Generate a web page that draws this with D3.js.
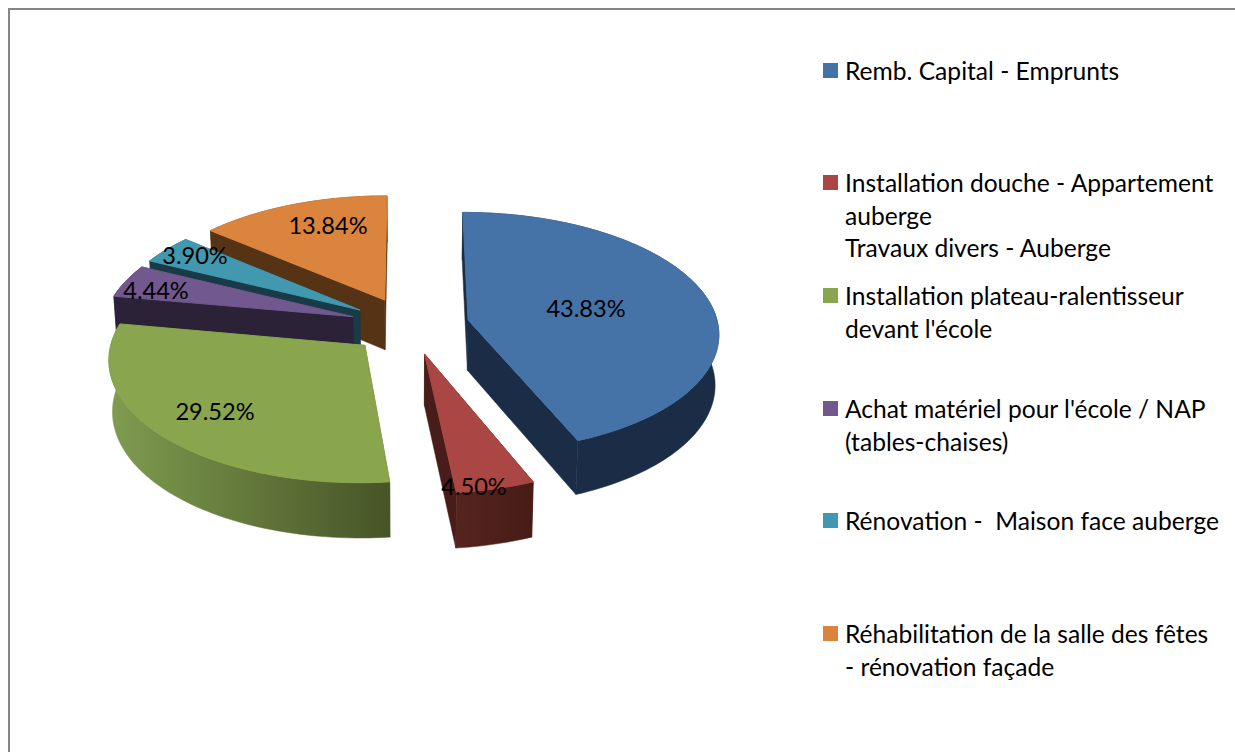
<!DOCTYPE html>
<html>
<head>
<meta charset="utf-8">
<script src="https://d3js.org/d3.v7.min.js"></script>
<style>
  html, body { margin: 0; padding: 0; background: #fff; overflow: hidden; }
  svg { display: block; }
  text { font-family: Lato, "Open Sans", sans-serif; fill: #000; }
</style>
</head>
<body>
<svg id="chart" width="1235" height="752"></svg>
<script>
// data
const categories = [
  "Remb. Capital - Emprunts",
  "Installation douche - Appartement\nauberge\nTravaux divers - Auberge",
  "Installation plateau-ralentisseur\ndevant l'école",
  "Achat matériel pour l'école / NAP\n(tables-chaises)",
  "Rénovation -  Maison face auberge",
  "Réhabilitation de la salle des fêtes\n- rénovation façade",
];
const values = [43.83, 4.5, 29.52, 4.44, 3.9, 13.84];
const labels = ["43.83%", "4.50%", "29.52%", "4.44%", "3.90%", "13.84%"];

// colours
const topColors = ["#4572a7", "#aa4643", "#89a54e", "#71588f", "#4198af", "#db843d"];
const wallLeft = ["#1b2d46", "#55241f", "#7f9c4f", "#2b2238", "#183b47", "#573316"];
const wallRight = ["#1b2d46", "#481b17", "#475427", "#2b2238", "#183b47", "#573316"];
const sideColors = ["#1b2d46", "#481c18", "#475427", "#2b2238", "#183b47", "#573316"];
// back to front
const drawOrder = [5, 4, 3, 2, 1, 0];

// layout
const cx = 409.5, cy = 325.5;
const explode = 0.24;
const perspective = 0.1;
const depth = 50.5;
const bottomShrink = 0.988;
const labelAnchors = [[586, 309], [474, 487], [215, 412], [156, 291], [195, 256], [328, 226]];
const legendRows = [80, 192, 305, 418, 530, 643];
const legendLine = 32.7;

const svg = d3.select("#chart");
const defs = svg.append("defs");

// frame, runs off the right and bottom of the page
svg.append("rect")
  .attr("x", 9).attr("y", 9)
  .attr("width", 1300).attr("height", 800)
  .attr("fill", "#fff")
  .attr("stroke", "#868686")
  .attr("stroke-width", 2);

const xScale = d3.scaleLinear().domain([-1, 1]).range([-250, 250]);
const yScale = d3.scaleLinear().domain([-1, 1]).range([119.4, -119.4]);

// world point on the pie plane -> pixel, z = 0 top face, z = 1 bottom face
function project(X, Y, z) {
  const s = 1 / (1 + perspective * Y);
  const k = z ? bottomShrink : 1;
  return [
    cx + xScale(X) * s * k,
    cy + yScale(Y) * s * k + (z ? depth * s : 0),
  ];
}

const arcs = d3.pie().sort(null)(values);
const line = d3.line();
const pie3d = svg.append("g");

drawOrder.forEach((i) => {
  const d = arcs[i];
  const mid = (d.startAngle + d.endAngle) / 2;
  const ox = explode * Math.sin(mid);
  const oy = explode * Math.cos(mid);
  const n = Math.max(8, Math.round((d.endAngle - d.startAngle) * 40));
  const rim = d3.range(n + 1).map((j) => {
    const a = d.startAngle + ((d.endAngle - d.startAngle) * j) / n;
    return [ox + Math.sin(a), oy + Math.cos(a)];
  });
  const top = rim.map((p) => project(p[0], p[1], 0));
  const bottom = rim.map((p) => project(p[0], p[1], 1));
  const apexTop = project(ox, oy, 0);
  const apexBottom = project(ox, oy, 1);

  const g = pie3d.append("g");

  // radial walls
  [[top[0], bottom[0]], [top[n], bottom[n]]].forEach(([t, b]) => {
    g.append("path")
      .attr("d", line([apexTop, t, b, apexBottom]) + "Z")
      .attr("fill", sideColors[i])
      .attr("stroke", sideColors[i])
      .attr("stroke-width", 0.5);
  });

  // outer wall, shaded left to right
  const xs = d3.extent(top.concat(bottom), (p) => p[0]);
  const gradId = "wall" + i;
  const grad = defs.append("linearGradient")
    .attr("id", gradId)
    .attr("gradientUnits", "userSpaceOnUse")
    .attr("x1", xs[0]).attr("x2", xs[1])
    .attr("y1", 0).attr("y2", 0);
  grad.append("stop").attr("offset", 0).attr("stop-color", wallLeft[i]);
  grad.append("stop").attr("offset", 1).attr("stop-color", wallRight[i]);
  g.append("path")
    .attr("d", line(top.concat(bottom.slice().reverse())) + "Z")
    .attr("fill", `url(#${gradId})`)
    .attr("stroke", `url(#${gradId})`)
    .attr("stroke-width", 0.5);

  // top face, stroked so no wall colour peeks round the rim
  g.append("path")
    .attr("d", line([apexTop].concat(top)) + "Z")
    .attr("fill", topColors[i])
    .attr("stroke", topColors[i])
    .attr("stroke-width", 1);
});

// data labels
svg.append("g")
  .selectAll("text")
  .data(labels)
  .join("text")
  .attr("x", (d, i) => labelAnchors[i][0])
  .attr("y", (d, i) => labelAnchors[i][1])
  .attr("dy", "0.35em")
  .attr("text-anchor", "middle")
  .attr("font-size", 23.6)
  .text((d) => d);

// legend
const legend = svg.append("g")
  .selectAll("g")
  .data(categories)
  .join("g");
legend.append("rect")
  .attr("x", 823)
  .attr("y", (d, i) => legendRows[i] - 17)
  .attr("width", 15)
  .attr("height", 15)
  .attr("fill", (d, i) => topColors[i]);
legend.each(function (d, i) {
  d3.select(this)
    .selectAll("text")
    .data(d.split("\n"))
    .join("text")
    .attr("x", 845)
    .attr("y", (t, j) => legendRows[i] + j * legendLine)
    .attr("font-size", 24.6)
    .attr("xml:space", "preserve")
    .style("white-space", "pre")
    .text((t) => t);
});
</script>
</body>
</html>
